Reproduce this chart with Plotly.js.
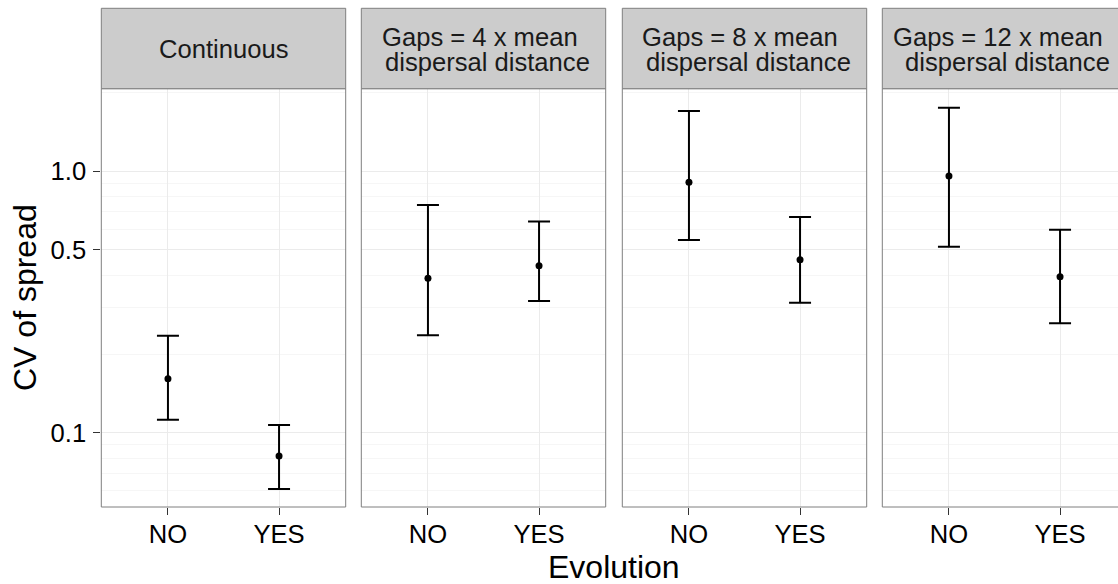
<!DOCTYPE html>
<html>
<head>
<meta charset="utf-8">
<script src="https://cdn.plot.ly/plotly-3.0.1.min.js"></script>
<style>
html, body { margin: 0; padding: 0; overflow: hidden; background: #fff; }
#chart { width: 1118px; height: 584px; }
</style>
</head>
<body>
<div id="chart"></div>
<script>
// ---- data ----
const categories = ['NO', 'YES'];
const panelTitles = ['Continuous', 'Gaps = 4 x mean dispersal distance', 'Gaps = 8 x mean dispersal distance', 'Gaps = 12 x mean dispersal distance'];
const stripLine1 = ['Continuous', 'Gaps = 4 x mean', 'Gaps = 8 x mean', 'Gaps = 12 x mean'];
const stripLine2 = ['', 'dispersal distance', 'dispersal distance', 'dispersal distance'];

const meanContinuous = [0.161, 0.0814];
const meanGap4 = [0.390, 0.435];
const meanGap8 = [0.908, 0.459];
const meanGap12 = [0.959, 0.395];

const upperContinuous = [0.235, 0.107];
const upperGap4 = [0.743, 0.642];
const upperGap8 = [1.70, 0.669];
const upperGap12 = [1.75, 0.597];

const lowerContinuous = [0.112, 0.0609];
const lowerGap4 = [0.236, 0.319];
const lowerGap8 = [0.546, 0.314];
const lowerGap12 = [0.515, 0.262];

const yTickVals = [0.1, 0.5, 1.0];
const yTickText = ['0.1', '0.5', '1.0'];
const yMinorVals = [0.06, 0.07, 0.08, 0.09, 0.2, 0.3, 0.4, 0.6, 0.7, 0.8, 0.9, 2];

const xTitle = 'Evolution';
const yTitle = 'CV of spread';

// ---- layout geometry (pixels) ----
const W = 1118, H = 584;
const px = v => v / W;
const py = v => 1 - v / H;
const panelLeft = [101.3, 361.3, 622.3, 882.3];
const panelW = 244.4;
const panelTop = 88.7, panelBottom = 507;
const stripTop = 8.3;
const line1Center = [223.5, 479.7, 739.8, 997.5];
const line2Center = [223.5, 487.8, 748.3, 1007];

const means = [meanContinuous, meanGap4, meanGap8, meanGap12];
const uppers = [upperContinuous, upperGap4, upperGap8, upperGap12];
const lowers = [lowerContinuous, lowerGap4, lowerGap8, lowerGap12];

const traces = means.map((m, i) => ({
  type: 'scatter',
  mode: 'markers',
  x: categories,
  y: m,
  name: panelTitles[i],
  xaxis: i === 0 ? 'x' : 'x' + (i + 1),
  yaxis: 'y',
  marker: { color: '#000', size: 7 },
  error_y: {
    type: 'data',
    symmetric: false,
    array: uppers[i].map((u, k) => u - m[k]),
    arrayminus: lowers[i].map((l, k) => m[k] - l),
    color: '#000',
    thickness: 2,
    width: 11
  },
  showlegend: false,
  hoverinfo: 'x+y'
}));

const layout = {
  width: W, height: H,
  margin: { l: 0, r: 0, t: 0, b: 0 },
  paper_bgcolor: '#fff',
  plot_bgcolor: '#fff',
  font: { family: 'Liberation Sans, Arial, sans-serif', color: '#000' },
  showlegend: false,
  yaxis: {
    type: 'log',
    domain: [py(panelBottom), py(panelTop)],
    range: [-1.2842, 0.316],
    tickmode: 'array',
    tickvals: yTickVals,
    ticktext: yTickText,
    ticks: 'outside', ticklen: 7, tickwidth: 1, tickcolor: '#333',
    ticklabelstandoff: 2,
    tickfont: { size: 25.6, color: '#000' },
    showgrid: true, gridcolor: '#ebebeb', gridwidth: 1,
    minor: { tickmode: 'array', tickvals: yMinorVals, showgrid: true, gridcolor: '#f6f6f6', gridwidth: 1, ticks: '' },
    zeroline: false, showline: false,
    anchor: 'x',
    fixedrange: true
  },
  shapes: [],
  annotations: []
};

for (let i = 0; i < 4; i++) {
  const key = i === 0 ? 'xaxis' : 'xaxis' + (i + 1);
  const left = panelLeft[i];
  const right = Math.min(left + panelW, W);
  const visibleFrac = (right - left) / panelW;
  layout[key] = {
    type: 'category',
    categoryorder: 'array',
    categoryarray: categories,
    domain: [px(left), px(right)],
    range: [-0.6, -0.6 + 2.2 * visibleFrac],
    anchor: 'y',
    ticks: 'outside', ticklen: 7, tickwidth: 1, tickcolor: '#333',
    ticklabelstandoff: -3,
    tickfont: { size: 25.6, color: '#000' },
    showgrid: true, gridcolor: '#ebebeb', gridwidth: 1,
    zeroline: false, showline: false,
    fixedrange: true
  };
  // panel border
  layout.shapes.push({
    type: 'rect', xref: 'paper', yref: 'paper', layer: 'above',
    x0: px(left), x1: px(left + panelW), y0: py(panelBottom), y1: py(panelTop),
    line: { color: '#7f7f7f', width: 1 }, fillcolor: 'rgba(0,0,0,0)'
  });
  // strip
  layout.shapes.push({
    type: 'rect', xref: 'paper', yref: 'paper', layer: 'above',
    x0: px(left), x1: px(left + panelW), y0: py(panelTop), y1: py(stripTop),
    line: { color: '#7f7f7f', width: 1 }, fillcolor: '#cccccc'
  });
  if (stripLine2[i] === '') {
    layout.annotations.push({
      xref: 'paper', yref: 'paper', x: px(line1Center[i]), y: py(49),
      xanchor: 'center', yanchor: 'middle', showarrow: false,
      text: stripLine1[i], font: { size: 25.6, color: '#1a1a1a' }
    });
  } else {
    layout.annotations.push({
      xref: 'paper', yref: 'paper', x: px(line1Center[i]), y: py(36.5),
      xanchor: 'center', yanchor: 'middle', showarrow: false,
      text: stripLine1[i], font: { size: 25.6, color: '#1a1a1a' }
    });
    layout.annotations.push({
      xref: 'paper', yref: 'paper', x: px(line2Center[i]), y: py(61.5),
      xanchor: 'center', yanchor: 'middle', showarrow: false,
      text: stripLine2[i], font: { size: 25.6, color: '#1a1a1a' }
    });
  }
}

layout.annotations.push({
  xref: 'paper', yref: 'paper', x: px(614), y: py(566.5),
  xanchor: 'center', yanchor: 'middle', showarrow: false,
  text: xTitle, font: { size: 32, color: '#000' }
});
layout.annotations.push({
  xref: 'paper', yref: 'paper', x: px(25), y: py(298),
  xanchor: 'center', yanchor: 'middle', showarrow: false, textangle: -90,
  text: yTitle, font: { size: 32, color: '#000' }
});

Plotly.newPlot('chart', traces, layout, { displayModeBar: false, staticPlot: true });
</script>
</body>
</html>
